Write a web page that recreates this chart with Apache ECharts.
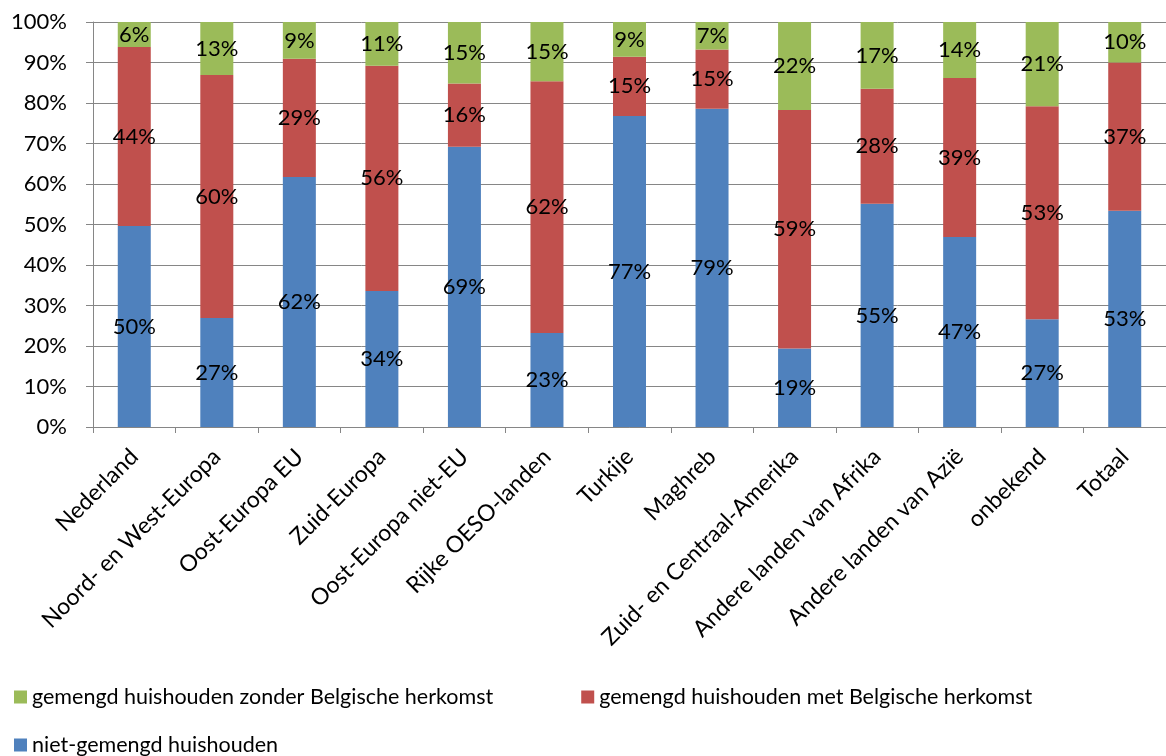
<!DOCTYPE html>
<html>
<head>
<meta charset="utf-8">
<script src="https://cdn.jsdelivr.net/npm/echarts@6/dist/echarts.min.js"></script>
<style>
html,body{margin:0;padding:0;background:#fff;}
#chart{width:1166px;height:756px;}
</style>
</head>
<body>
<div id="chart"></div>
<script>
var categories = ['Nederland','Noord- en West-Europa','Oost-Europa EU','Zuid-Europa','Oost-Europa niet-EU','Rijke OESO-landen','Turkije','Maghreb','Zuid- en Centraal-Amerika','Andere landen van Afrika','Andere landen van Azië','onbekend','Totaal'];
var nietGemengd = [49.6, 26.9, 61.7, 33.6, 69.2, 23.2, 76.8, 78.6, 19.4, 55.1, 46.9, 26.6, 53.4];
var metBelgisch = [44.2, 60.0, 29.2, 55.6, 15.6, 62.2, 14.6, 14.6, 58.9, 28.4, 39.3, 52.6, 36.6];
var zonderBelgisch = [6.2, 13.1, 9.1, 10.8, 15.2, 14.6, 8.6, 6.8, 21.7, 16.5, 13.8, 20.8, 10.0];
var yTicks = [0,10,20,30,40,50,60,70,80,90,100];

var FONT = 'Lato';
var seriesNames = ['niet-gemengd huishouden','gemengd huishouden met Belgische herkomst','gemengd huishouden zonder Belgische herkomst'];
var colors = ['#4F81BD','#C0504D','#9BBB59'];
var dataSets = [nietGemengd, metBelgisch, zonderBelgisch];

var chart = echarts.init(document.getElementById('chart'), null, {renderer:'canvas'});
var series = dataSets.map(function(d,i){
  return {
    name: seriesNames[i],
    type: 'bar',
    stack: 'total',
    barWidth: 33,
    data: d,
    itemStyle: {color: colors[i]},
    label: {
      show: true,
      position: 'inside',
      color: '#000',
      fontFamily: FONT,
      fontSize: 22,
      formatter: function(p){ return Math.round(p.value) + '%'; }
    }
  };
});
chart.setOption({
  animation: false,
  textStyle: {fontFamily: FONT},
  grid: {left: 93, top: 22, width: 1078, height: 405, containLabel: false},
  legend: [{
    data: [seriesNames[2], seriesNames[1]],
    left: 9, top: 681, itemWidth: 13, itemHeight: 13, itemGap: 88,
    icon: 'rect',
    textStyle: {fontFamily: FONT, fontSize: 21.5, color: '#000'}
  },{
    data: [seriesNames[0]],
    left: 9, top: 729, itemWidth: 13, itemHeight: 13,
    icon: 'rect',
    textStyle: {fontFamily: FONT, fontSize: 21.5, color: '#000'}
  }],
  xAxis: {
    type: 'category',
    data: categories,
    axisLine: {lineStyle: {color: '#868686', width: 1}},
    axisTick: {show: true, length: 6, lineStyle: {color: '#868686'}},
    axisLabel: {rotate: 45, interval: 0, color: '#000', fontFamily: FONT, fontSize: 23, margin: 26}
  },
  yAxis: {
    type: 'value',
    min: 0, max: 100, interval: 10,
    axisLine: {show: true, lineStyle: {color: '#868686', width: 1}},
    axisTick: {show: true, length: 7, lineStyle: {color: '#868686'}},
    splitLine: {lineStyle: {color: '#868686', width: 1}},
    axisLabel: {color: '#000', fontFamily: FONT, fontSize: 22, margin: 26,
      formatter: function(v){ return yTicks.indexOf(v) >= 0 ? v + '%' : ''; }}
  },
  series: series
});
</script>
</body>
</html>
